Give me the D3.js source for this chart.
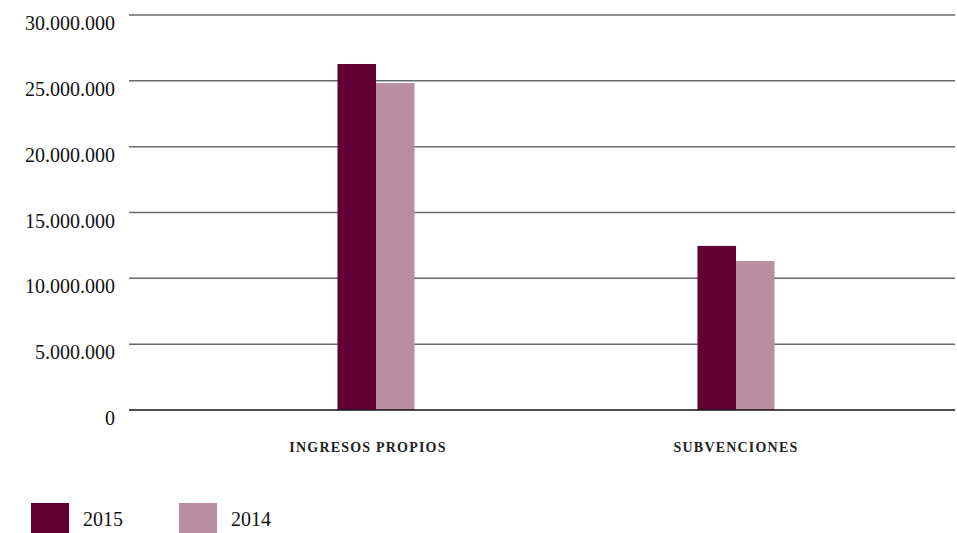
<!DOCTYPE html>
<html><head><meta charset="utf-8">
<script src="https://cdn.jsdelivr.net/npm/d3@7"></script>
<style>
html,body{margin:0;padding:0;background:#fff;}
text{font-family:"Liberation Serif","DejaVu Serif",serif;}
</style></head>
<body><svg id="c" width="957" height="533"></svg>
<script>
const categories = ["ingresos propios", "subvenciones"];
const seriesNames = ["2015", "2014"];
const values2015 = [26280000, 12460000];
const values2014 = [24830000, 11320000];
const yTicks = [0, 5000000, 10000000, 15000000, 20000000, 25000000, 30000000];
const colors = ["#620035", "#b98ea0"];

(function () {
const svg = d3.select("#c");
const mLeft = 129, mRight = 955, mTop = 15, mBottom = 410;
const y = d3.scaleLinear().domain([0, 30000000]).range([mBottom, mTop]);
const x = d3.scalePoint().domain(categories).range([376, 736]);
const xs = d3.scaleBand().domain(seriesNames).range([-38.5, 38.5]);

const fmt = v => d3.format(",")(v).replace(/,/g, ".");

svg.append("g").selectAll("line").data(yTicks.filter(d => d > 0)).join("line")
  .attr("x1", mLeft).attr("x2", mRight)
  .attr("y1", d => y(d)).attr("y2", d => y(d))
  .attr("stroke", "#6a6a6a").attr("stroke-width", 1.5);

svg.append("g").selectAll("text").data(yTicks).join("text")
  .attr("x", 115).attr("y", d => y(d) + 15)
  .attr("text-anchor", "end")
  .attr("font-size", 20).attr("fill", "#111")
  .text(d => fmt(d));

const data = [values2015, values2014];
seriesNames.forEach((s, si) => {
  svg.append("g").selectAll("rect").data(categories).join("rect")
    .attr("x", c => x(c) + xs(s))
    .attr("width", xs.bandwidth())
    .attr("y", (c, i) => y(data[si][i]))
    .attr("height", (c, i) => y(0) - y(data[si][i]))
    .attr("fill", colors[si]);
});

svg.append("line").attr("x1", mLeft).attr("x2", mRight)
  .attr("y1", y(0)).attr("y2", y(0)).attr("stroke", "#111").attr("stroke-width", 1.5);

svg.append("g").selectAll("text").data(categories).join("text")
  .attr("x", c => x(c) - (c === categories[0] ? 8 : 0))
  .attr("y", 452)
  .attr("text-anchor", "middle")
  .attr("font-size", 14).attr("font-weight", "bold")
  .attr("letter-spacing", 1.2).attr("fill", "#222")
  .text(c => c.toUpperCase());

const lx = [31, 179];
seriesNames.forEach((s, i) => {
  svg.append("rect").attr("x", lx[i]).attr("y", 503).attr("width", 38).attr("height", 30).attr("fill", colors[i]);
  svg.append("text").attr("x", lx[i] + 52).attr("y", 526)
    .attr("font-size", 20).attr("fill", "#111").text(s);
});
})();
</script></body></html>
